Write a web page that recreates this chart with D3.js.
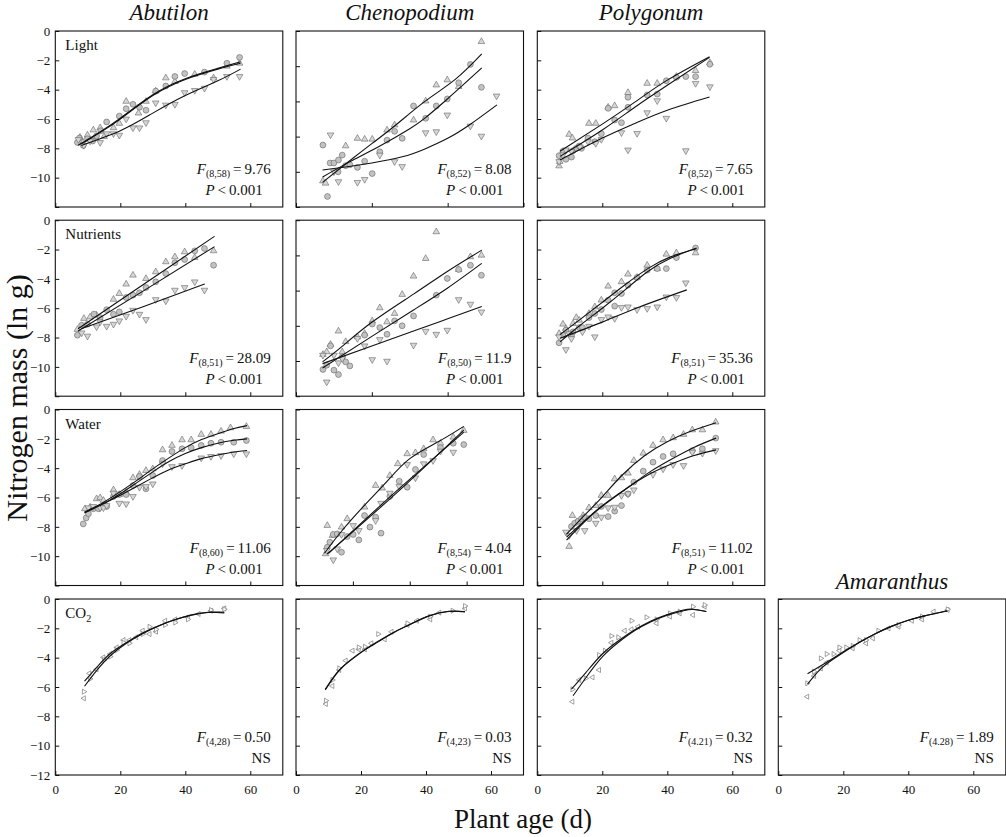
<!DOCTYPE html>
<html>
<head>
<meta charset="utf-8">
<script src="https://cdn.jsdelivr.net/npm/d3@7"></script>
<style>
  body { margin: 0; background: #fff; }
  svg { display: block; font-family: "Liberation Serif", "Times New Roman", serif; }
</style>
</head>
<body>
<div id="chart"></div>
<script>
// ---- data: [plant age (d), ln N mass] ----

// Abutilon – light
const abLightUp = [[7.6,-7.25],[8.5,-7.6],[9.9,-7.1],[11.7,-6.75],[12.5,-7.3],[13.8,-6.6],[15,-7.2],[17.9,-6.6],[19.7,-6.3],[21.8,-4.8],[25.6,-5.6],[27.9,-4.8],[30.9,-4.1],[34,-3.2],[36.8,-3.45],[42.9,-2.95],[48.7,-3.2],[52.8,-2.4],[56.7,-2.2]];
const abLightCircle = [[6.8,-7.6],[7.4,-7.3],[8.6,-7.8],[9.9,-7.35],[11.5,-7.5],[12.7,-7.15],[14,-6.8],[15.8,-6.2],[19.7,-5.8],[21.8,-5.3],[23.9,-5.0],[25.9,-5.2],[27.9,-5.4],[30.9,-4.1],[34,-3.75],[36.8,-3.1],[39.8,-2.9],[45.9,-2.8],[52.8,-2.2],[56.7,-1.8]];
const abLightDown = [[7.1,-7.4],[8.8,-7.8],[10.7,-7.5],[13.8,-7.6],[15.8,-7.0],[17.9,-7.0],[19.7,-7.1],[21.8,-6.0],[23.9,-6.6],[25.9,-6.6],[27.9,-6.25],[30.9,-4.9],[34,-5.05],[36.8,-5.0],[39.8,-4.2],[42.9,-4.05],[45.9,-3.9],[48.7,-3.3],[52.8,-3.1],[56.7,-3.1]];
const abLightFitUp = [[7,-7.8],[10,-7.4],[14,-6.85],[20,-5.95],[30,-4.35],[40,-3.25],[50,-2.55],[57,-2.1]];
const abLightFitCircle = [[8,-7.7],[11,-7.3],[15,-6.75],[20,-6.0],[30,-4.4],[40,-3.3],[50,-2.6],[57,-2.2]];
const abLightFitDown = [[8,-7.8],[20,-6.8],[30,-5.6],[40,-4.4],[50,-3.4],[57,-2.6]];

// Chenopodium – light
const chLightUp = [[7.1,-8.52],[7.8,-8.65],[13.1,-6.53],[16.2,-6.1],[18.1,-6.15],[20.1,-6.15],[24,-5.63],[26,-5.34],[31,-5.06],[34.2,-3.98],[37,-3.07],[39.9,-2.78],[42.9,-3.16],[48.9,-0.6]];
const chLightCircle = [[7.1,-6.48],[8.3,-9.4],[9,-7.5],[10,-7.5],[11.1,-8.0],[11.2,-7.33],[12.2,-7.05],[13.1,-7.65],[14.2,-7.6],[16.2,-7.75],[18.1,-7.4],[20.1,-8.1],[22.1,-6.86],[24,-6.2],[26,-5.7],[28,-6.1],[31,-4.26],[34.2,-4.96],[37,-4.26],[39.9,-3.86],[42.9,-2.94],[46,-1.9],[48.9,-3.2]];
const chLightDown = [[9.1,-5.9],[10,-8.0],[11.2,-8.56],[16.2,-8.6],[18.1,-8.43],[22.1,-7.05],[26,-7.42],[28,-7.7],[34.2,-5.78],[37,-5.72],[39.9,-4.77],[46,-5.4],[48.9,-5.97],[52.9,-3.69]];
const chLightFitUp = [[7,-8.6],[14,-7.4],[20,-6.4],[26,-5.4],[34,-4.0],[42,-2.75],[49,-1.3]];
const chLightFitCircle = [[7,-8.3],[14,-7.45],[22,-6.55],[30,-5.55],[34,-4.95],[40,-3.85],[49,-2.1]];
const chLightFitDown = [[7,-7.9],[14,-7.7],[20,-7.5],[28,-7.15],[34,-6.7],[40,-6.1],[46,-5.3],[53,-4.2]];

// Polygonum – light
const pgLightUp = [[6.7,-9.2],[6.9,-8.9],[9.8,-7.05],[10.8,-7.3],[15.9,-6.3],[18,-6.3],[21.8,-5.2],[23.8,-5.1],[27.9,-4.2],[33.8,-3.57],[36.9,-3.57],[42.8,-3.1],[48.7,-2.7],[53.1,-2.16]];
const pgLightCircle = [[6.7,-8.5],[7.9,-8.2],[8.8,-8.75],[10.5,-8.6],[11,-8.16],[12,-8.0],[12.9,-7.84],[13.6,-8.0],[15.6,-7.3],[17.7,-7.55],[19.7,-7.0],[21.8,-5.27],[23.8,-6.07],[25.9,-6.25],[27.9,-4.52],[27.9,-5.2],[33.8,-4.36],[36.9,-4.3],[39.7,-3.39],[42.8,-3.16],[45.7,-3.11],[48.7,-3.11],[53.1,-2.27]];
const pgLightDown = [[6.7,-8.9],[7.9,-8.45],[8.8,-8.1],[10.5,-8.2],[13.1,-7.9],[15.6,-7.55],[18,-7.66],[19.7,-7.39],[25.9,-6.93],[27.9,-8.11],[30.7,-6.98],[33.8,-5.57],[36.9,-4.75],[39.7,-5.95],[45.7,-8.16],[48.7,-3.57],[53.1,-3.8]];
const pgLightFitUp = [[7,-8.2],[20,-6.35],[30,-4.85],[40,-3.35],[53,-1.75]];
const pgLightFitCircle = [[7,-8.55],[20,-6.75],[30,-5.2],[40,-3.7],[53,-1.8]];
const pgLightFitDown = [[7,-8.8],[20,-7.3],[30,-6.3],[40,-5.4],[53,-4.5]];

// Abutilon – nutrients
const abNutUp = [[6.8,-7.45],[8.8,-6.7],[10.7,-6.6],[12.7,-6.48],[17.9,-5.4],[19.7,-5.0],[21.8,-4.36],[23.9,-3.75],[27.9,-3.98],[30.9,-3.52],[34,-2.84],[36.8,-2.5],[39.8,-2.16],[42.9,-2.55],[48.7,-2.09]];
const abNutCircle = [[6.8,-7.84],[8.1,-7.16],[9.9,-7.09],[11.9,-6.4],[13.8,-6.64],[15.8,-6.1],[17.9,-6.41],[19.7,-6.25],[21.8,-5.27],[23.9,-5.11],[25.9,-4.95],[27.9,-4.59],[30.9,-4.2],[34,-3.64],[36.8,-2.9],[39.8,-2.68],[42.9,-2.09],[45.9,-1.93],[48.7,-3.07]];
const abNutDown = [[8.1,-7.68],[9.9,-7.9],[12.7,-7.27],[13.8,-6.93],[15.8,-7.23],[17.9,-7.09],[19.7,-6.86],[21.8,-6.55],[23.9,-6.14],[25.9,-6.41],[27.9,-6.77],[30.9,-5.41],[34,-5.5],[36.8,-4.77],[39.8,-4.59],[42.9,-4.2],[45.9,-4.77]];
const abNutFitUp = [[7,-7.4],[28,-4.25],[49,-1.1]];
const abNutFitCircle = [[7,-7.55],[28,-4.7],[49,-1.8]];
const abNutFitDown = [[8,-7.4],[27,-5.9],[46,-4.35]];

// Chenopodium – nutrients
const chNutUp = [[7.1,-7.63],[8.1,-7.48],[9.1,-7.06],[11.2,-6.3],[12.2,-7.48],[13.1,-6.9],[16.2,-6.63],[18.1,-6.44],[20.1,-5.72],[22.1,-4.98],[24,-5.78],[26,-5.3],[28,-4.22],[31,-3.18],[34.2,-2.18],[37,-0.66],[42.9,-2.8],[46,-2.08],[48.9,-1.99]];
const chNutCircle = [[7.1,-8.48],[8.1,-8.24],[9.1,-7.14],[10,-8.52],[11.2,-8.77],[12.2,-7.77],[13.1,-8.05],[14.2,-8.28],[18.1,-6.53],[20.1,-5.9],[22.1,-6.1],[24,-6.48],[26,-5.72],[28,-6.0],[31,-5.44],[37,-4.26],[39.9,-3.31],[42.9,-2.8],[46,-2.56],[48.9,-3.13]];
const chNutDown = [[7.1,-7.67],[8.1,-9.19],[10,-7.67],[11.2,-8.1],[12.2,-7.86],[16.2,-6.72],[18.1,-7.14],[20.1,-7.92],[22.1,-6.78],[24,-8.01],[31,-7.1],[34.2,-6.31],[37,-6.48],[39.9,-6.25],[42.9,-4.51],[46,-4.77],[48.9,-5.21]];
const chNutFitUp = [[7,-8.05],[12,-7.2],[20,-5.8],[31,-4.2],[40,-2.9],[49,-1.7]];
const chNutFitCircle = [[7,-8.4],[20,-6.6],[31,-5.1],[40,-3.85],[49,-2.45]];
const chNutFitDown = [[7,-8.15],[20,-7.15],[31,-6.3],[40,-5.6],[49,-4.9]];

// Polygonum – nutrients
const pgNutUp = [[6.7,-7.73],[7.9,-7.09],[8.8,-7.39],[11,-7.05],[12,-6.64],[12.9,-6.82],[15.9,-6.36],[17.7,-5.91],[19.7,-5.45],[21.8,-4.5],[25.9,-4.2],[27.9,-3.68],[30.7,-3.9],[33.8,-3.07],[36.9,-3.3],[39.7,-2.32],[42.8,-2.23],[48.7,-2.23]];
const pgNutCircle = [[6.7,-8.36],[7.9,-7.84],[8.8,-7.5],[10.5,-7.84],[11,-7.61],[12.9,-7.32],[13.9,-7.32],[15.9,-6.64],[17.7,-6.36],[19.7,-6.09],[21.8,-5.45],[23.8,-4.95],[23.8,-5.86],[25.9,-5.0],[27.9,-4.43],[30.7,-3.91],[33.8,-3.41],[36.9,-3.3],[39.7,-3.3],[42.8,-2.55],[48.7,-1.89]];
const pgNutDown = [[6.7,-7.95],[8.8,-8.82],[9.8,-7.73],[10.5,-8.07],[13.9,-7.61],[15.9,-7.23],[17.7,-7.95],[19.7,-6.77],[21.8,-6.59],[23.8,-6.7],[25.9,-5.95],[27.9,-5.91],[30.7,-6.09],[33.8,-6.02],[36.9,-5.91],[39.7,-5.23],[42.8,-5.27],[45.7,-4.27]];
const pgNutFitUp = [[7,-7.8],[13,-6.8],[20,-5.6],[27,-4.4],[34,-3.3],[41,-2.5],[49,-1.95]];
const pgNutFitCircle = [[7,-8.3],[13,-7.2],[20,-6.0],[27,-4.75],[34,-3.5],[41,-2.6],[49,-1.9]];
const pgNutFitDown = [[7,-8.05],[20,-6.95],[31,-5.95],[46,-4.75]];

// Abutilon – water
const abWatUp = [[9.1,-6.77],[10.7,-6.66],[12.7,-6.09],[13.8,-6.02],[14.8,-6.2],[17.9,-5.48],[19.7,-5.8],[21.8,-5.64],[23.9,-4.66],[25.9,-4.43],[27.9,-4.16],[30,-4.05],[33,-2.75],[35.9,-2.45],[39,-2.07],[41.8,-2.07],[44.9,-1.7],[47.9,-1.7],[51,-1.48],[53.9,-1.25],[58.8,-1.16]];
const abWatCircle = [[8.6,-7.8],[9.5,-7.39],[10.2,-7.11],[11.7,-6.77],[13.3,-6.77],[15,-6.55],[15.8,-6.61],[17.9,-5.93],[19.7,-5.8],[21.8,-5.8],[23.9,-5.18],[25.9,-4.57],[27.9,-5.41],[30,-4.5],[33,-3.48],[35.9,-2.86],[39,-2.68],[41.8,-2.61],[44.9,-2.45],[47.9,-2.3],[51,-2.23],[54.9,-2.23],[58.8,-2.11]];
const abWatDown = [[10.2,-6.7],[11.7,-6.61],[13.8,-6.7],[14.8,-6.7],[15.8,-6.55],[17.9,-5.7],[19.7,-6.39],[21.8,-6.43],[23.9,-5.93],[25.9,-5.3],[27.9,-5.25],[30,-5.07],[33,-3.7],[35.9,-3.89],[39,-3.82],[44.9,-3.3],[47.9,-3.2],[51,-3.14],[54.9,-3.02],[58.8,-3.02]];
const abWatFitUp = [[9,-7.0],[15,-6.3],[20,-5.6],[25,-4.85],[30,-4.05],[35,-3.3],[40,-2.6],[45,-2.05],[50,-1.65],[55,-1.3],[59,-1.1]];
const abWatFitCircle = [[9,-7.0],[15,-6.4],[20,-5.75],[25,-5.0],[30,-4.25],[35,-3.55],[40,-3.0],[45,-2.6],[50,-2.3],[55,-2.1],[59,-2.0]];
const abWatFitDown = [[9,-7.05],[15,-6.4],[20,-5.85],[25,-5.25],[30,-4.65],[35,-4.1],[40,-3.7],[45,-3.35],[50,-3.1],[55,-2.9],[59,-2.8]];

// Chenopodium – water
const chWatUp = [[10.4,-9.84],[11,-7.91],[12.8,-8.59],[16,-8.02],[18,-7.45],[24.1,-6.66],[28,-5.18],[30.3,-5.36],[33,-4.5],[35.8,-3.7],[39.1,-3.02],[42,-2.95],[44.9,-2.68],[48.2,-2.07],[50.8,-2.3],[55.3,-1.89],[59,-1.43]];
const chWatCircle = [[11,-9.39],[11.9,-9.05],[13.1,-8.52],[14.5,-8.48],[16,-9.73],[18,-8.66],[20.1,-8.52],[22.1,-8.89],[24.1,-7.23],[26,-8.02],[28,-7.34],[29.9,-8.43],[33,-5.93],[36.3,-4.89],[39.1,-5.3],[42,-4.09],[44.9,-3.07],[50.8,-2.61],[55.3,-2.3],[59,-2.39]];
const chWatDown = [[10.8,-9.61],[13.1,-10.25],[14.5,-9.5],[16,-8.52],[20.1,-7.91],[22.1,-8.25],[28,-7.57],[29.9,-6.39],[33,-5.7],[36.3,-5.25],[39.1,-3.75],[42,-4.66],[44.9,-3.7],[48.2,-3.48],[50.8,-2.84],[55.3,-2.91]];
const chWatFitUp = [[10,-9.8],[16,-8.3],[24,-6.55],[32,-4.9],[40,-3.35],[50,-2.2],[59,-1.15]];
const chWatFitCircle = [[11,-9.85],[35,-5.75],[59,-1.4]];
const chWatFitDown = [[11.5,-9.8],[35,-5.62],[59,-1.55]];

// Polygonum – water
const pgWatUp = [[9.8,-9.34],[10.8,-7.23],[12.1,-7.68],[14.1,-7.23],[15.9,-6.7],[18,-6.55],[19.7,-5.86],[21.8,-5.86],[23.8,-4.73],[25.9,-4.66],[27.9,-4.34],[29.7,-3.48],[32.6,-2.98],[35.6,-2.45],[38.7,-2.07],[41.8,-1.93],[45,-1.7],[47.7,-1.39],[50.8,-1.39],[54.9,-0.86]];
const pgWatCircle = [[10.5,-7.98],[11.5,-7.75],[12.6,-7.61],[13.6,-7.45],[14.6,-7.34],[15.9,-7.45],[18,-7.23],[19.7,-6.61],[21.8,-7.3],[23.8,-6.93],[25.9,-6.55],[27.9,-5.75],[29.7,-4.95],[32.6,-4.2],[35.6,-3.59],[38.7,-3.2],[41.8,-3.02],[47.7,-2.8],[50.8,-2.68],[54.9,-1.95]];
const pgWatDown = [[8.8,-8.36],[9.8,-8.59],[12.1,-8.25],[14.6,-8.25],[18,-7.75],[19.7,-7.34],[21.8,-6.7],[23.8,-6.66],[25.9,-5.86],[27.9,-5.75],[29.7,-5.48],[35.6,-4.43],[38.7,-4.05],[41.8,-3.75],[45,-3.82],[47.7,-2.91],[50.8,-2.98],[54.9,-2.8]];
const pgWatFitUp = [[9,-8.5],[15,-7.1],[20,-5.95],[26,-4.5],[33,-3.15],[40,-2.2],[47,-1.5],[55,-0.9]];
const pgWatFitCircle = [[9,-8.9],[15,-7.55],[20,-6.6],[28,-5.3],[35,-4.2],[42,-3.3],[48,-2.6],[55,-1.95]];
const pgWatFitDown = [[9,-8.7],[15,-7.5],[20,-6.55],[28,-5.3],[35,-4.35],[42,-3.65],[48,-3.15],[55,-2.75]];

// CO2 (two levels: left / right pointing markers)
const abCo2Left = [[8.8,-6.77],[10.5,-5.07],[12.7,-4.8],[14.8,-3.98],[16.9,-3.75],[18.9,-3.3],[21,-2.8],[22.8,-2.8],[24.9,-2.61],[26.9,-2.16],[29,-2.39],[31,-2.23],[33.8,-1.48],[36.9,-1.39],[40.8,-1.25],[44.1,-1.02],[47.9,-0.8],[52,-0.64]];
const abCo2Right = [[8.8,-6.32],[10.7,-5.45],[15,-4.16],[16.9,-3.93],[18.9,-3.48],[21,-2.98],[22.8,-3.02],[26.9,-2.39],[29,-1.89],[31,-2.07],[33.8,-1.77],[36.9,-1.61],[40.8,-1.39],[47.9,-0.75],[52,-0.7]];
const abCo2FitA = [[9,-5.6],[13,-4.6],[17,-3.7],[22,-2.95],[27,-2.3],[32,-1.8],[37,-1.4],[42,-1.1],[47,-0.92],[52,-0.9]];
const abCo2FitB = [[9,-5.95],[13,-4.8],[17,-3.85],[22,-3.0],[27,-2.35],[32,-1.82],[37,-1.4],[42,-1.08],[47,-0.9],[52,-0.95]];

const chCo2Left = [[9.2,-7.16],[11.2,-5.93],[13.3,-4.84],[15.3,-4.2],[17.4,-3.52],[19.3,-3.43],[21.2,-3.43],[23.2,-3.02],[27.3,-2.75],[29.4,-2.23],[34.3,-1.77],[37.2,-1.48],[41.3,-1.39],[44.1,-0.93],[52,-0.64]];
const chCo2Right = [[9.2,-6.93],[11.2,-5.52],[13.3,-4.73],[19.3,-3.3],[21.2,-3.25],[25.3,-2.39],[34.3,-1.66],[41.3,-1.2],[48.2,-0.8],[52,-0.48]];
const chCo2FitA = [[9,-6.2],[13,-4.95],[17,-4.15],[21,-3.5],[25,-2.95],[30,-2.3],[35,-1.75],[41,-1.15],[47,-0.85],[52,-0.85]];
const chCo2FitB = [[9,-6.15],[13,-4.92],[17,-4.12],[21,-3.47],[25,-2.92],[30,-2.28],[35,-1.73],[41,-1.14],[47,-0.84],[52,-0.88]];

const pgCo2Left = [[10.8,-7.0],[12.9,-5.52],[17,-5.34],[19,-4.84],[22.8,-2.98],[26.9,-2.16],[29,-2.07],[31,-1.89],[36.7,-1.66],[40.8,-1.2],[43.8,-0.98],[47.9,-1.09],[51.5,-0.52]];
const pgCo2Right = [[10.8,-6.16],[14.9,-5.41],[19,-3.82],[20.8,-3.52],[22.8,-2.52],[24.9,-2.61],[29,-1.48],[33.6,-1.25],[36.7,-1.39],[40.8,-0.98],[43.8,-0.86],[47.9,-0.52],[51.5,-0.41]];
const pgCo2FitA = [[10.5,-6.15],[15,-5.0],[20,-3.75],[25,-2.85],[30,-2.1],[35,-1.5],[40,-1.05],[45,-0.75],[48,-0.7],[52,-0.85]];
const pgCo2FitB = [[11,-6.6],[15,-5.35],[20,-3.95],[25,-2.95],[30,-2.15],[35,-1.55],[40,-1.1],[45,-0.8],[48,-0.72],[52,-0.85]];

const amCo2Left = [[8.9,-6.66],[11,-5.25],[13.1,-4.73],[14.9,-4.34],[18.8,-3.52],[22.9,-3.36],[27,-3.02],[29.1,-2.68],[33.9,-2.0],[37,-1.89],[41.1,-1.48],[44.2,-1.39],[47.8,-0.86],[52.1,-0.75]];
const amCo2Right = [[8.9,-5.75],[11,-4.95],[13.1,-4.05],[14.9,-3.75],[17,-3.75],[18.8,-3.3],[20.9,-3.3],[22.9,-3.2],[25,-2.8],[27,-2.8],[30.8,-2.16],[37,-1.77],[44.2,-1.2],[52.1,-0.7]];
const amCo2FitA = [[9,-5.1],[15,-4.3],[20,-3.6],[25,-2.95],[30,-2.35],[35,-1.85],[40,-1.45],[45,-1.15],[52,-0.8]];
const amCo2FitB = [[9,-5.8],[12,-5.0],[15,-4.4],[20,-3.65],[25,-2.95],[30,-2.35],[35,-1.85],[40,-1.45],[45,-1.15],[52,-0.82]];

// labels
const species = ["Abutilon", "Chenopodium", "Polygonum", "Amaranthus"];
const treatments = ["Light", "Nutrients", "Water", "CO2"];
const xTicks = [0, 20, 40, 60];
const fDf = [["(8,58)", "(8,52)", "(8,52)"], ["(8,51)", "(8,50)", "(8,51)"], ["(8,60)", "(8,54)", "(8,51)"], ["(4,28)", "(4,23)", "(4.21)", "(4.28)"]];
const fVal = [["9.76", "8.08", "7.65"], ["28.09", "11.9", "35.36"], ["11.06", "4.04", "11.02"], ["0.50", "0.03", "0.32", "1.89"]];

// panel table (row, col, axis extents as drawn in the figure)
const panels = [
  { row: 0, col: 0, xMax: 70, yMin: -12, pts: [abLightUp, abLightCircle, abLightDown], fits: [abLightFitUp, abLightFitCircle, abLightFitDown] },
  { row: 0, col: 1, xMax: 60, yMin: -10, pts: [chLightUp, chLightCircle, chLightDown], fits: [chLightFitUp, chLightFitCircle, chLightFitDown] },
  { row: 0, col: 2, xMax: 70, yMin: -12, pts: [pgLightUp, pgLightCircle, pgLightDown], fits: [pgLightFitUp, pgLightFitCircle, pgLightFitDown] },
  { row: 1, col: 0, xMax: 70, yMin: -12, pts: [abNutUp, abNutCircle, abNutDown], fits: [abNutFitUp, abNutFitCircle, abNutFitDown] },
  { row: 1, col: 1, xMax: 60, yMin: -10, pts: [chNutUp, chNutCircle, chNutDown], fits: [chNutFitUp, chNutFitCircle, chNutFitDown] },
  { row: 1, col: 2, xMax: 70, yMin: -12, pts: [pgNutUp, pgNutCircle, pgNutDown], fits: [pgNutFitUp, pgNutFitCircle, pgNutFitDown] },
  { row: 2, col: 0, xMax: 70, yMin: -12, pts: [abWatUp, abWatCircle, abWatDown], fits: [abWatFitUp, abWatFitCircle, abWatFitDown] },
  { row: 2, col: 1, xMax: 80, yMin: -12, pts: [chWatUp, chWatCircle, chWatDown], fits: [chWatFitUp, chWatFitCircle, chWatFitDown] },
  { row: 2, col: 2, xMax: 70, yMin: -12, pts: [pgWatUp, pgWatCircle, pgWatDown], fits: [pgWatFitUp, pgWatFitCircle, pgWatFitDown] },
  { row: 3, col: 0, xMax: 70, yMin: -12, co2: true, pts: [abCo2Left, abCo2Right], fits: [abCo2FitA, abCo2FitB] },
  { row: 3, col: 1, xMax: 70, yMin: -12, co2: true, pts: [chCo2Left, chCo2Right], fits: [chCo2FitA, chCo2FitB] },
  { row: 3, col: 2, xMax: 70, yMin: -12, co2: true, pts: [pgCo2Left, pgCo2Right], fits: [pgCo2FitA, pgCo2FitB] },
  { row: 3, col: 3, xMax: 70, yMin: -12, co2: true, pts: [amCo2Left, amCo2Right], fits: [amCo2FitA, amCo2FitB] }
];

// ---- layout ----
const width = 1006, height = 837;
const colLeft = [55.3, 296, 537.3, 778.3],
  rowTop = [31, 220.2, 409.5, 599],
  pw = 227.5, ph = 176;

const svg = d3.select("#chart")
  .append("svg")
  .attr("width", width)
  .attr("height", height);

const markerStyles = [
  { shape: d3.symbolTriangle, rot: 0, size: 19, fill: "#d6d6d6" },
  { shape: d3.symbolCircle, rot: 0, size: 27, fill: "#c2c2c2" },
  { shape: d3.symbolTriangle, rot: 180, size: 19, fill: "#d6d6d6" }
];
const co2Styles = [
  { shape: d3.symbolTriangle, rot: -90, size: 11, fill: "#fff" },
  { shape: d3.symbolTriangle, rot: 90, size: 11, fill: "#fff" }
];

for (let p of panels) {
  let g = svg.append("g")
    .attr("transform", `translate(${colLeft[p.col]},${rowTop[p.row]})`);

  let x = d3.scaleLinear().domain([0, p.xMax]).range([0, pw]);
  let y = d3.scaleLinear().domain([p.yMin, 0]).range([ph, 0]);

  let showY = p.col === 0;
  let showX = p.row === 3;

  let yAxis = g.append("g")
    .call(d3.axisLeft(y)
      .tickValues(d3.range(0, p.yMin - 1, -2))
      .tickSize(-4).tickSizeOuter(0).tickPadding(5)
      .tickFormat(d => (showY && (d > -12 || showX)) ? d3.format("")(d) : ""));
  yAxis.select(".domain").remove();

  let xAxis = g.append("g")
    .attr("transform", `translate(0,${ph})`)
    .call(d3.axisBottom(x)
      .tickValues(xTicks)
      .tickSize(-4).tickSizeOuter(0).tickPadding(10)
      .tickFormat(d => showX ? d : ""));
  xAxis.select(".domain").remove();

  g.selectAll(".tick line").attr("stroke", "#111");
  g.selectAll(".tick text")
    .attr("font-family", "Liberation Serif, serif")
    .attr("font-size", 13)
    .attr("fill", "#111");

  g.append("rect")
    .attr("width", pw)
    .attr("height", ph)
    .attr("fill", "none")
    .attr("stroke", "#111")
    .attr("stroke-width", 1.1);

  // points
  let styles = p.co2 ? co2Styles : markerStyles;
  p.pts.forEach((series, i) => {
    let st = styles[i];
    g.append("g").selectAll("path")
      .data(series)
      .join("path")
      .attr("d", d3.symbol().type(st.shape).size(st.size))
      .attr("transform", d => `translate(${x(d[0])},${y(d[1])}) rotate(${st.rot})`)
      .attr("fill", st.fill)
      .attr("stroke", p.co2 ? "#7a7a7a" : "#666")
      .attr("stroke-width", p.co2 ? 0.7 : 0.6);
  });

  // fitted curves
  let line = d3.line()
    .x(d => x(d[0]))
    .y(d => y(d[1]))
    .curve(d3.curveNatural);

  for (let f of p.fits) {
    g.append("path")
      .datum(f)
      .attr("fill", "none")
      .attr("stroke", "#111")
      .attr("stroke-width", 1.1)
      .attr("d", line);
  }

  // treatment label
  if (p.col === 0) {
    let t = g.append("text")
      .attr("x", 10)
      .attr("y", 19)
      .attr("font-size", 15)
      .attr("fill", "#111");
    if (treatments[p.row] === "CO2") {
      t.text("CO");
      t.append("tspan").attr("font-size", 10).attr("dy", 4).text("2");
    } else {
      t.text(treatments[p.row]);
    }
  }

  // statistics
  let fText = g.append("text")
    .attr("x", pw - 12)
    .attr("y", 143)
    .attr("text-anchor", "end")
    .attr("font-size", 15)
    .attr("fill", "#111");
  fText.append("tspan").attr("font-style", "italic").text("F");
  fText.append("tspan").attr("font-size", 10).attr("dy", 3).text(fDf[p.row][p.col]);
  fText.append("tspan").attr("dy", -3).text("\u2009=\u2009" + fVal[p.row][p.col]);

  let pText = g.append("text")
    .attr("y", 164)
    .attr("text-anchor", "end")
    .attr("font-size", 15)
    .attr("fill", "#111");
  if (p.co2) {
    pText.attr("x", pw - 12).text("NS");
  } else {
    pText.attr("x", pw - 20);
    pText.append("tspan").attr("font-style", "italic").text("P");
    pText.append("tspan").text("\u2009<\u20090.001");
  }
}

// species titles
species.forEach((s, i) => {
  svg.append("text")
    .attr("x", colLeft[i] + pw / 2)
    .attr("y", i === 3 ? 589 : 20)
    .attr("text-anchor", "middle")
    .attr("font-style", "italic")
    .attr("font-size", 23)
    .attr("fill", "#111")
    .text(s);
});

// axis titles
svg.append("text")
  .attr("transform", "translate(27,398) rotate(-90)")
  .attr("text-anchor", "middle")
  .attr("font-size", 30)
  .attr("fill", "#111")
  .text("Nitrogen mass (ln g)");

svg.append("text")
  .attr("x", 523)
  .attr("y", 828)
  .attr("text-anchor", "middle")
  .attr("font-size", 27)
  .attr("fill", "#111")
  .text("Plant age (d)");
</script>
</body>
</html>
